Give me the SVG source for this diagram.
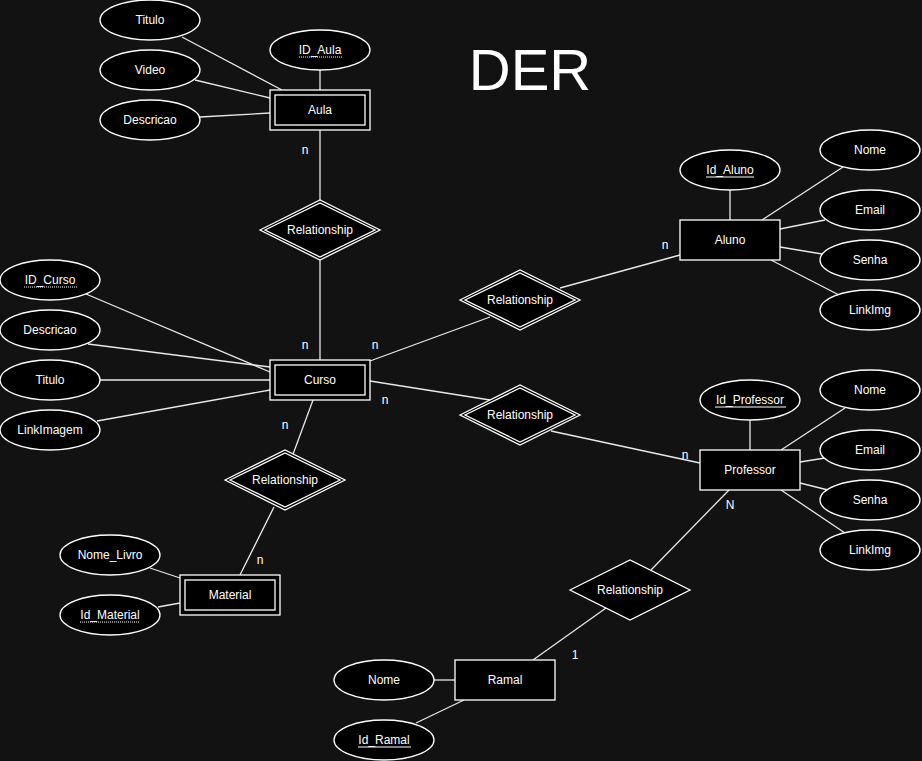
<svg xmlns="http://www.w3.org/2000/svg" width="922" height="761" viewBox="0 0 922 761">
<style>
.bg{fill:#121212}
.shape{fill:#000;stroke:#fff;stroke-width:1.3}
.in{fill:none;stroke:#fff;stroke-width:1.3}
.edge line{stroke:#e8e8e8;stroke-width:1.3}
text{font-family:"Liberation Sans",Arial,Helvetica,sans-serif;font-size:12px;fill:#fff;text-anchor:middle}
.ul{stroke:#fff;stroke-width:1}
.dot{stroke:#fff;stroke-width:1;stroke-dasharray:1 1}
.title{font-size:58px}
</style>
<rect class="bg" x="0" y="0" width="922" height="761"/>
<g id="connectors" class="edge">
<line x1="182" y1="37" x2="282" y2="90"/>
<line x1="195" y1="80" x2="270" y2="98"/>
<line x1="200" y1="117" x2="270" y2="113"/>
<line x1="320" y1="70" x2="320" y2="90"/>
<line x1="320" y1="130" x2="320" y2="200"/>
<line x1="320" y1="260" x2="320" y2="360"/>
<line x1="86" y1="294" x2="270" y2="372"/>
<line x1="88" y1="344" x2="270" y2="367"/>
<line x1="100" y1="380" x2="270" y2="380"/>
<line x1="97" y1="421" x2="270" y2="390"/>
<line x1="370" y1="361" x2="490" y2="317"/>
<line x1="560" y1="288" x2="680" y2="255"/>
<line x1="370" y1="381" x2="490" y2="400"/>
<line x1="551" y1="431" x2="700" y2="463"/>
<line x1="313" y1="400" x2="292" y2="457"/>
<line x1="274" y1="507" x2="240" y2="575"/>
<line x1="150" y1="568" x2="180" y2="578"/>
<line x1="158" y1="607" x2="180" y2="603"/>
<line x1="730" y1="190" x2="730" y2="220"/>
<line x1="762" y1="220" x2="843" y2="167"/>
<line x1="780" y1="229" x2="825" y2="220"/>
<line x1="780" y1="247" x2="822" y2="254"/>
<line x1="771" y1="260" x2="839" y2="295"/>
<line x1="750" y1="420" x2="750" y2="450"/>
<line x1="781" y1="450" x2="845" y2="408"/>
<line x1="800" y1="462" x2="825" y2="458"/>
<line x1="800" y1="483" x2="828" y2="490"/>
<line x1="781" y1="490" x2="845" y2="533"/>
<line x1="729" y1="490" x2="651" y2="570"/>
<line x1="606" y1="608" x2="533" y2="660"/>
<line x1="434" y1="680" x2="455" y2="680"/>
<line x1="416" y1="723" x2="464" y2="700"/>
</g>
<g id="labels">
<text x="305" y="154">n</text>
<text x="305" y="349">n</text>
<text x="375" y="349">n</text>
<text x="385" y="404">n</text>
<text x="285" y="429">n</text>
<text x="260" y="564">n</text>
<text x="665" y="249">n</text>
<text x="685" y="459">n</text>
<text x="730" y="509">N</text>
<text x="575" y="659">1</text>
</g>
<text class="title" x="530" y="90">DER</text>
<!-- Aula -->
<g id="aula"><rect class="shape" x="270" y="90" width="100" height="40"/><rect class="in" x="275" y="95" width="90" height="30"/><text x="320" y="114">Aula</text></g>
<g id="aula-titulo"><ellipse class="shape" cx="150" cy="20" rx="50" ry="20"/><text x="150" y="24">Titulo</text></g>
<g id="aula-video"><ellipse class="shape" cx="150" cy="70" rx="50" ry="20"/><text x="150" y="74">Video</text></g>
<g id="aula-descricao"><ellipse class="shape" cx="150" cy="120" rx="50" ry="20"/><text x="150" y="124">Descricao</text></g>
<g id="aula-id"><ellipse class="shape" cx="320" cy="50" rx="50" ry="20"/><text x="320" y="54">ID_Aula</text><line class="dot" x1="299" y1="57" x2="342" y2="57"/></g>
<g id="rel-aula"><polygon class="shape" points="260,230 320,200 380,230 320,260"/><polygon class="in" points="265,230 320,203 375,230 320,257"/><text x="320" y="234">Relationship</text></g>
<!-- Curso -->
<g id="curso"><rect class="shape" x="270" y="360" width="100" height="40"/><rect class="in" x="275" y="365" width="90" height="30"/><text x="320" y="384">Curso</text></g>
<g id="curso-id"><ellipse class="shape" cx="50" cy="280" rx="50" ry="20"/><text x="50" y="284">ID_Curso</text><line class="dot" x1="24" y1="287" x2="77" y2="287"/></g>
<g id="curso-descricao"><ellipse class="shape" cx="50" cy="330" rx="50" ry="20"/><text x="50" y="334">Descricao</text></g>
<g id="curso-titulo"><ellipse class="shape" cx="50" cy="380" rx="50" ry="20"/><text x="50" y="384">Titulo</text></g>
<g id="curso-linkimagem"><ellipse class="shape" cx="50" cy="430" rx="50" ry="20"/><text x="50" y="434">LinkImagem</text></g>
<g id="rel-aluno"><polygon class="shape" points="460,300 520,270 580,300 520,330"/><polygon class="in" points="465,300 520,273 575,300 520,327"/><text x="520" y="304">Relationship</text></g>
<g id="rel-professor"><polygon class="shape" points="460,415 520,385 580,415 520,445"/><polygon class="in" points="465,415 520,388 575,415 520,442"/><text x="520" y="419">Relationship</text></g>
<g id="rel-material"><polygon class="shape" points="225,480 285,450 345,480 285,510"/><polygon class="in" points="230,480 285,453 340,480 285,507"/><text x="285" y="484">Relationship</text></g>
<!-- Material -->
<g id="material"><rect class="shape" x="180" y="575" width="100" height="40"/><rect class="in" x="185" y="580" width="90" height="30"/><text x="230" y="599">Material</text></g>
<g id="material-nome"><ellipse class="shape" cx="110" cy="555" rx="50" ry="20"/><text x="110" y="559">Nome_Livro</text></g>
<g id="material-id"><ellipse class="shape" cx="110" cy="615" rx="50" ry="20"/><text x="110" y="619">Id_Material</text><line class="dot" x1="80" y1="622" x2="140" y2="622"/></g>
<!-- Aluno -->
<g id="aluno"><rect class="shape" x="680" y="220" width="100" height="40"/><text x="730" y="244">Aluno</text></g>
<g id="aluno-id"><ellipse class="shape" cx="730" cy="170" rx="50" ry="20"/><text x="730" y="174">Id_Aluno</text><line class="ul" x1="706" y1="177" x2="754" y2="177"/></g>
<g id="aluno-nome"><ellipse class="shape" cx="870" cy="150" rx="50" ry="20"/><text x="870" y="154">Nome</text></g>
<g id="aluno-email"><ellipse class="shape" cx="870" cy="210" rx="50" ry="20"/><text x="870" y="214">Email</text></g>
<g id="aluno-senha"><ellipse class="shape" cx="870" cy="260" rx="50" ry="20"/><text x="870" y="264">Senha</text></g>
<g id="aluno-linkimg"><ellipse class="shape" cx="870" cy="310" rx="50" ry="20"/><text x="870" y="314">LinkImg</text></g>
<!-- Professor -->
<g id="professor"><rect class="shape" x="700" y="450" width="100" height="40"/><text x="750" y="474">Professor</text></g>
<g id="professor-id"><ellipse class="shape" cx="750" cy="400" rx="50" ry="20"/><text x="750" y="404">Id_Professor</text><line class="ul" x1="715" y1="407" x2="786" y2="407"/></g>
<g id="professor-nome"><ellipse class="shape" cx="870" cy="390" rx="50" ry="20"/><text x="870" y="394">Nome</text></g>
<g id="professor-email"><ellipse class="shape" cx="870" cy="450" rx="50" ry="20"/><text x="870" y="454">Email</text></g>
<g id="professor-senha"><ellipse class="shape" cx="870" cy="500" rx="50" ry="20"/><text x="870" y="504">Senha</text></g>
<g id="professor-linkimg"><ellipse class="shape" cx="870" cy="550" rx="50" ry="20"/><text x="870" y="554">LinkImg</text></g>
<g id="rel-ramal"><polygon class="shape" points="570,590 630,560 690,590 630,620"/><text x="630" y="594">Relationship</text></g>
<!-- Ramal -->
<g id="ramal"><rect class="shape" x="455" y="660" width="100" height="40"/><text x="505" y="684">Ramal</text></g>
<g id="ramal-nome"><ellipse class="shape" cx="384" cy="680" rx="50" ry="20"/><text x="384" y="684">Nome</text></g>
<g id="ramal-id"><ellipse class="shape" cx="384" cy="740" rx="50" ry="20"/><text x="384" y="744">Id_Ramal</text><line class="ul" x1="358" y1="747" x2="411" y2="747"/></g>
</svg>
